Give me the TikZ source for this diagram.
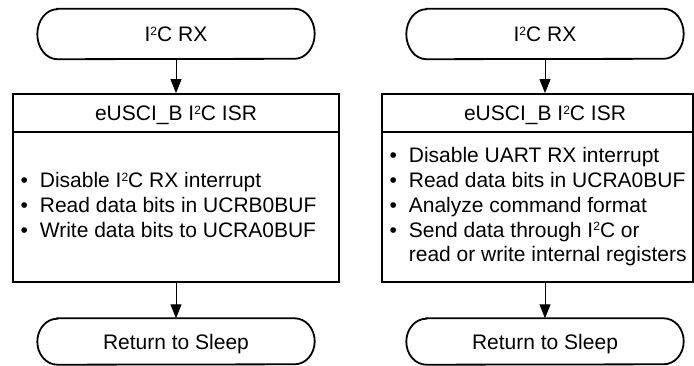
\documentclass[tikz,border=0pt]{standalone}
\usepackage{fontspec}
\setmainfont{Liberation Sans}
\usetikzlibrary{arrows.meta}
\newcommand{\twosup}{\raisebox{6.3pt}{\fontsize{12}{12}\selectfont 2}}
\newcommand{\stadium}[2]{%
  \draw[outline] ([xshift=20pt]#1.north west) -- ([xshift=-20pt]#1.north east)
    arc[start angle=90,end angle=-90,x radius=20pt,y radius=#2]
    -- ([xshift=20pt]#1.south west)
    arc[start angle=270,end angle=90,x radius=20pt,y radius=#2] -- cycle;}
\begin{document}
\begin{tikzpicture}[x=1pt,y=1pt,
  every node/.style={font=\fontsize{21}{24.8}\selectfont, inner sep=0pt},
  shell/.style={minimum width=277pt, text height=15pt, text depth=0pt},
  hdr/.style={minimum height=38pt, text height=15pt, text depth=0pt},
  isrbox/.style={draw, line width=1.8pt, minimum height=188pt},
  outline/.style={line width=1.8pt},
  arr/.style={line width=1pt, -{Triangle[width=11pt,length=14pt]}}]
\useasboundingbox (0,0) rectangle (694,-366);

% left column
\node[shell, minimum height=50pt] (t1) at (176,-34) {I\twosup C RX};
\stadium{t1}{25pt}
\node[isrbox, minimum width=326pt] (isr1) at (176,-188) {};
\node[hdr] (h1) at (176,-113) {eUSCI\_B I\twosup C ISR};
\draw[outline] (isr1.west |- h1.south) -- (isr1.east |- h1.south);
\node[anchor=base west] (b1) at (20.3,-188) {%
  \begin{tabular}[t]{@{}l@{\hspace{12pt}}l@{}}
  \textbullet & Disable I\twosup C RX interrupt\\
  \textbullet & Read data bits in UCRB0BUF\\
  \textbullet & Write data bits to UCRA0BUF
  \end{tabular}};
\node[shell, minimum height=46pt] (r1) at (176,-341.5) {Return to Sleep};
\stadium{r1}{23pt}
\draw[arr] (t1.south) -- (isr1.north);
\draw[arr] (isr1.south) -- (r1.north);

% right column
\node[shell, minimum height=50pt] (t2) at (545,-34) {I\twosup C RX};
\stadium{t2}{25pt}
\node[isrbox, minimum width=311pt] (isr2) at (537.5,-188) {};
\node[hdr] (h2) at (545,-113) {eUSCI\_B I\twosup C ISR};
\draw[outline] (isr2.west |- h2.south) -- (isr2.east |- h2.south);
\node[anchor=base west] (b2) at (389.3,-162.7) {%
  \begin{tabular}[t]{@{}l@{\hspace{12pt}}l@{}}
  \textbullet & Disable UART RX interrupt\\
  \textbullet & Read data bits in UCRA0BUF\\
  \textbullet & Analyze command format\\
  \textbullet & Send data through I\twosup C or\\
              & read or write internal registers
  \end{tabular}};
\node[shell, minimum height=46pt] (r2) at (545,-341.5) {Return to Sleep};
\stadium{r2}{23pt}
\draw[arr] (t2.south) -- (t2.south |- isr2.north);
\draw[arr] (r2.north |- isr2.south) -- (r2.north);
\end{tikzpicture}
\end{document}
